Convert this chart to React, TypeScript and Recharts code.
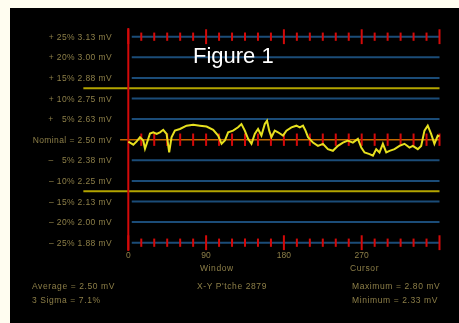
import React from 'react';
import { LineChart, Line, XAxis, YAxis, ReferenceLine } from 'recharts';

// cursor position (deg) and deviation from nominal (%)
const positions = [
  0, 2, 5.8, 9.7, 13.5, 17.3, 19.3, 21.2, 25.1, 28.9, 32.8, 36.6, 40.4, 44.3, 47.3, 50, 53.9, 59.7,
  67.4, 75.1, 82.8, 90.5, 98.2, 103.9, 107.9, 111.7, 115.5, 121.2, 127, 130.9, 134.8, 138.6, 142.5,
  146.3, 150.1, 154, 157.9, 160.5, 163, 165.6, 169.4, 173.2, 179, 182.9, 188.7, 194.5, 198.3, 202.1,
  205, 207.9, 213.6, 219.4, 225.2, 230.9, 236.7, 242.5, 248.3, 254, 259.8, 265.6, 269.5, 273.3,
  279.1, 283, 286.8, 290.6, 294.5, 298.4, 302.2, 308, 313.7, 319.5, 325.3, 329.1, 334.9, 338.8,
  342.6, 346.4, 350.3, 354.1, 358, 360,
];
const deviation = [
  -0.5, -0.7, -1.2, -0.4, 0.6, -0.2, -2.2, -1.0, 1.5, 1.8, 1.4, 1.8, 2.4, 1.4, -3.1, 0.6, 2.2, 2.6,
  3.4, 3.6, 3.4, 3.2, 2.4, 1.0, -1.0, -0.2, 1.8, 2.2, 3.0, 3.8, 2.2, 0.2, -1.0,
  1.4, 2.6, 1.0, 3.8, 4.6, 2.2, 0.6, 2.2, 1.8, 1.0, 2.2, 3.0, 3.4, 3.0, 3.4,
  2.2, 0.6, -0.7, -1.5, -1.0, -2.3, -2.7, -1.5, -0.7, -0.2, -0.7, 0.2, -1.9, -3.1,
  -3.5, -3.9, -2.3, -3.1, -1.0, -3.1, -2.7, -2.3, -1.5, -1.0, -1.9, -1.5, -2.3, -1.5,
  2.2, 3.4, 1.4, -1.0, 1.0, 0.8,
];

const yTicks = [25, 20, 15, 10, 5, 0, -5, -10, -15, -20, -25];
const pctLabels = ['+ 25%', '+ 20%', '+ 15%', '+ 10%', '+   5%', 'Nominal', '\u2013   5%', '\u2013 10%', '\u2013 15%', '\u2013 20%', '\u2013 25%'];
const mvLabels = ['3.13 mV', '3.00 mV', '2.88 mV', '2.75 mV', '2.63 mV', '2.50 mV', '2.38 mV', '2.25 mV', '2.13 mV', '2.00 mV', '1.88 mV'];
const xTicks = [0, 90, 180, 270];
const scaleTicks = [0, 15, 30, 45, 60, 75, 90, 105, 120, 135, 150, 165, 180, 195, 210, 225, 240, 255, 270, 285, 300, 315, 330, 345, 360];
const limits = [12.5, -12.5];

const data = positions.map((p, i) => ({ x: p, y: deviation[i] }));

const TEXT = '#8d7f48';
const BLUE = '#1b4c78';
const RED = '#d40a0a';
const FONT = 'Liberation Sans, Arial';

const YTick = (props: any) => {
  const i = yTicks.indexOf(props.payload.value);
  const style = { fontSize: 8.5, fill: TEXT, fontFamily: FONT, letterSpacing: 0.4, whiteSpace: 'pre' as const };
  if (i === 5) {
    return (
      <text x={112} y={props.y} dy={3} textAnchor="end" style={style}>
        Nominal = 2.50 mV
      </text>
    );
  }
  return (
    <g>
      <text x={75} y={props.y} dy={3} textAnchor="end" style={style}>{pctLabels[i]}</text>
      <text x={112} y={props.y} dy={3} textAnchor="end" style={style}>{mvLabels[i]}</text>
    </g>
  );
};

const note = (left: number, top: number, text: string) => (
  <div style={{ position: 'absolute', left, top, fontSize: 8.5, color: TEXT, fontFamily: FONT, whiteSpace: 'nowrap', letterSpacing: 0.6 }}>
    {text}
  </div>
);

export default function App() {
  return (
    <div style={{ position: 'fixed', left: 0, top: 0, width: 459, height: 323, background: '#fffdf0', filter: 'blur(0.4px)' }}>
      <div style={{ position: 'absolute', left: 10, top: 8, right: 0, bottom: 0, background: '#000' }} />
      <div style={{ position: 'absolute', left: 0, top: 0 }}>
        <LineChart width={459} height={323} data={data} margin={{ top: 36.7, right: 19.5, bottom: 50.3, left: 0 }}>
          <XAxis
            dataKey="x"
            type="number"
            domain={[0, 360]}
            ticks={xTicks}
            axisLine={false}
            tickLine={false}
            tickSize={0}
            tickMargin={9}
            height={30}
            tick={{ fontSize: 8.5, fill: TEXT, fontFamily: FONT }}
          />
          <YAxis
            type="number"
            domain={[-25, 25]}
            ticks={yTicks}
            width={128.3}
            axisLine={false}
            tickLine={false}
            tick={<YTick />}
            interval={0}
          />
          {yTicks.filter((v) => v !== 0).map((v) => (
            <ReferenceLine key={`g${v}`} segment={[{ x: 4, y: v }, { x: 360, y: v }]} stroke={BLUE} strokeWidth={2} ifOverflow="visible" />
          ))}
          {limits.map((v) => (
            <ReferenceLine key={`l${v}`} segment={[{ x: -52, y: v }, { x: 360, y: v }]} stroke="#b3a400" strokeWidth={2} ifOverflow="visible" />
          ))}
          <ReferenceLine segment={[{ x: -9.5, y: 0 }, { x: 360, y: 0 }]} stroke="#c26a00" strokeWidth={1.5} ifOverflow="visible" />
          <ReferenceLine segment={[{ x: 0, y: 27.1 }, { x: 0, y: -27 }]} stroke={RED} strokeWidth={2} ifOverflow="visible" />
          {scaleTicks.map((t) => {
            const d = t % 90 === 0 ? 1.8 : 1.0;
            return (
              <React.Fragment key={`t${t}`}>
                <ReferenceLine segment={[{ x: t, y: 25 - d }, { x: t, y: 25 + d }]} stroke={RED} strokeWidth={2} ifOverflow="visible" />
                <ReferenceLine segment={[{ x: t, y: -25 - d }, { x: t, y: -25 + d }]} stroke={RED} strokeWidth={2} ifOverflow="visible" />
                {t > 0 && (
                  <ReferenceLine segment={[{ x: t, y: -1.5 }, { x: t, y: 1.5 }]} stroke={RED} strokeWidth={2} ifOverflow="visible" />
                )}
              </React.Fragment>
            );
          })}
          <Line type="linear" dataKey="y" stroke="#e6e01e" strokeWidth={2} dot={false} isAnimationActive={false} />
        </LineChart>
      </div>
      <div style={{ position: 'absolute', left: 193, top: 43, fontSize: 22, color: '#fff', fontFamily: FONT }}>
        Figure 1
      </div>
      {note(200, 263, 'Window')}
      {note(350, 263, 'Cursor')}
      {note(197, 281, "X-Y P'tche 2879")}
      {note(32, 281, 'Average = 2.50 mV')}
      {note(32, 295, '3 Sigma = 7.1%')}
      {note(352, 281, 'Maximum = 2.80 mV')}
      {note(352, 295, 'Minimum = 2.33 mV')}
    </div>
  );
}
